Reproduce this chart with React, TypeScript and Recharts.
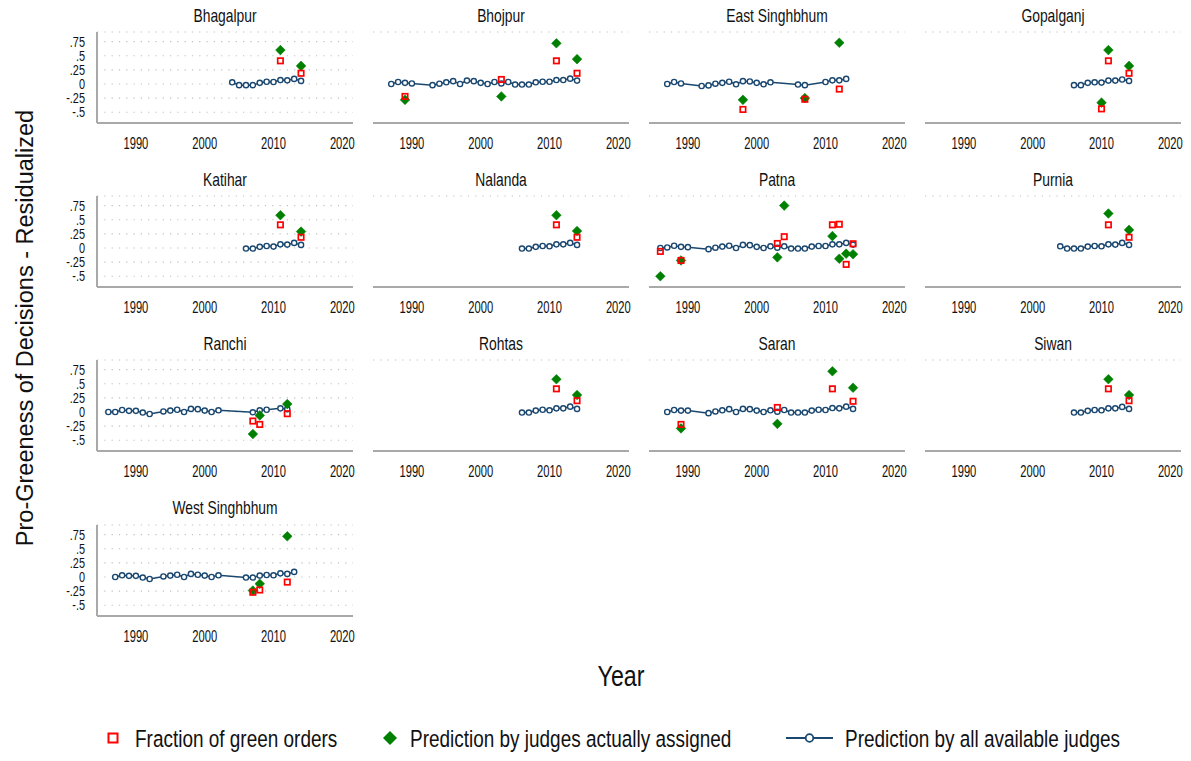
import React from 'react';
import { ComposedChart, Line, Scatter, XAxis, YAxis, CartesianGrid } from 'recharts';

const FONT = '"Liberation Sans", Arial, Helvetica, sans-serif';
const NAVY = '#1a476f';
const GREEN = '#008000';
const RED = '#ff0000';
const AXIS = '#a9a9a9';
const TEXT = '#111111';

const xTicks = [1990, 2000, 2010, 2020];
const yTicks = [-0.5, -0.25, 0, 0.25, 0.5, 0.75];
const yTickLabels = ['-.5', '-.25', '0', '.25', '.5', '.75'];
const xDomain = [1984.35, 2021.55];
const yDomain = [-0.69, 0.92];

const legendLabels = ['Fraction of green orders', 'Prediction by judges actually assigned', 'Prediction by all available judges'];
const xAxisTitle = 'Year';
const yAxisTitle = 'Pro-Greeness of Decisions - Residualized';

// Bhagalpur
const bhagalpurYears = [2004, 2005, 2006, 2007, 2008, 2009, 2010, 2011, 2012, 2013, 2014];
const bhagalpurAll = [0.03, -0.02, -0.02, -0.02, 0.02, 0.04, 0.035, 0.07, 0.065, 0.09, 0.055];
const bhagalpurOrderYears = [2011, 2014];
const bhagalpurGreen = [0.41, 0.19];
const bhagalpurAssigned = [0.6, 0.32];

// Bhojpur
const bhojpurYears = [1987, 1988, 1989, 1990, 1993, 1994, 1995, 1996, 1997, 1998, 1999, 2000, 2001, 2002, 2003, 2004, 2005, 2006, 2007, 2008, 2009, 2010, 2011, 2012, 2013, 2014];
const bhojpurAll = [0, 0.035, 0.02, 0.01, -0.02, 0.005, 0.03, 0.05, 0, 0.06, 0.05, 0.02, 0, 0.035, 0.01, 0.035, -0.01, -0.01, -0.01, 0.03, 0.04, 0.04, 0.07, 0.07, 0.095, 0.06];
const bhojpurOrderYears = [1989, 2003, 2011, 2014];
const bhojpurGreen = [-0.22, 0.08, 0.41, 0.19];
const bhojpurAssigned = [-0.28, -0.22, 0.72, 0.44];

// East Singhbhum
const eastSinghbhumYears = [1987, 1988, 1989, 1992, 1993, 1994, 1995, 1996, 1997, 1998, 1999, 2000, 2001, 2002, 2006, 2007, 2010, 2011, 2012, 2013];
const eastSinghbhumAll = [0, 0.035, 0.01, -0.035, -0.025, 0.005, 0.02, 0.04, -0.005, 0.05, 0.045, 0.02, -0.005, 0.03, -0.01, -0.02, 0.035, 0.065, 0.065, 0.09];
const eastSinghbhumOrderYears = [1998, 2007, 2012];
const eastSinghbhumGreen = [-0.45, -0.27, -0.09];
const eastSinghbhumAssigned = [-0.28, -0.25, 0.73];

// Gopalganj
const gopalganjYears = [2006, 2007, 2008, 2009, 2010, 2011, 2012, 2013, 2014];
const gopalganjAll = [-0.02, -0.02, 0.02, 0.03, 0.025, 0.06, 0.06, 0.08, 0.055];
const gopalganjOrderYears = [2010, 2011, 2014];
const gopalganjGreen = [-0.44, 0.41, 0.19];
const gopalganjAssigned = [-0.33, 0.6, 0.32];

// Katihar
const katiharYears = [2006, 2007, 2008, 2009, 2010, 2011, 2012, 2013, 2014];
const katiharAll = [-0.01, -0.01, 0.02, 0.035, 0.025, 0.065, 0.06, 0.09, 0.055];
const katiharOrderYears = [2011, 2014];
const katiharGreen = [0.41, 0.19];
const katiharAssigned = [0.58, 0.29];

// Nalanda
const nalandaYears = [2006, 2007, 2008, 2009, 2010, 2011, 2012, 2013, 2014];
const nalandaAll = [-0.01, -0.01, 0.02, 0.035, 0.03, 0.065, 0.065, 0.09, 0.055];
const nalandaOrderYears = [2011, 2014];
const nalandaGreen = [0.41, 0.19];
const nalandaAssigned = [0.58, 0.3];

// Patna
const patnaYears = [1986, 1987, 1988, 1989, 1990, 1993, 1994, 1995, 1996, 1997, 1998, 1999, 2000, 2001, 2002, 2003, 2004, 2005, 2006, 2007, 2008, 2009, 2010, 2011, 2012, 2013, 2014];
const patnaAll = [0, 0.01, 0.04, 0.02, 0.015, -0.02, 0.005, 0.025, 0.04, 0, 0.055, 0.05, 0.02, 0, 0.03, 0.005, 0.03, -0.01, -0.01, -0.01, 0.025, 0.035, 0.035, 0.065, 0.065, 0.09, 0.06];
const patnaOrderYears = [1986, 1989, 2003, 2004, 2011, 2012, 2013, 2014];
const patnaGreen = [-0.06, -0.22, 0.08, 0.2, 0.41, 0.42, -0.29, 0.075];
const patnaAssigned = [-0.5, -0.22, -0.165, 0.75, 0.21, -0.19, -0.1, -0.11];

// Purnia
const purniaYears = [2004, 2005, 2006, 2007, 2008, 2009, 2010, 2011, 2012, 2013, 2014];
const purniaAll = [0.03, -0.01, -0.01, -0.01, 0.025, 0.035, 0.03, 0.065, 0.06, 0.09, 0.055];
const purniaOrderYears = [2011, 2014];
const purniaGreen = [0.41, 0.19];
const purniaAssigned = [0.61, 0.32];

// Ranchi
const ranchiYears = [1986, 1987, 1988, 1989, 1990, 1991, 1992, 1994, 1995, 1996, 1997, 1998, 1999, 2000, 2001, 2002, 2007, 2008, 2009, 2011, 2012];
const ranchiAll = [0, 0, 0.035, 0.02, 0.02, -0.01, -0.035, 0.01, 0.025, 0.04, 0, 0.055, 0.05, 0.025, 0, 0.03, -0.005, 0.03, 0.04, 0.065, 0.05];
const ranchiOrderYears = [2007, 2008, 2012];
const ranchiGreen = [-0.16, -0.22, -0.03];
const ranchiAssigned = [-0.39, -0.06, 0.14];

// Rohtas
const rohtasYears = [2006, 2007, 2008, 2009, 2010, 2011, 2012, 2013, 2014];
const rohtasAll = [-0.01, -0.01, 0.025, 0.04, 0.03, 0.065, 0.065, 0.095, 0.055];
const rohtasOrderYears = [2011, 2014];
const rohtasGreen = [0.41, 0.2];
const rohtasAssigned = [0.58, 0.3];

// Saran
const saranYears = [1987, 1988, 1989, 1990, 1993, 1994, 1995, 1996, 1997, 1998, 1999, 2000, 2001, 2002, 2003, 2004, 2005, 2006, 2007, 2008, 2009, 2010, 2011, 2012, 2013, 2014];
const saranAll = [0, 0.035, 0.025, 0.025, -0.02, 0.01, 0.03, 0.05, 0, 0.055, 0.05, 0.025, 0, 0.03, 0.005, 0.035, -0.01, -0.01, -0.01, 0.025, 0.04, 0.035, 0.07, 0.065, 0.095, 0.055];
const saranOrderYears = [1989, 2003, 2011, 2014];
const saranGreen = [-0.22, 0.08, 0.41, 0.19];
const saranAssigned = [-0.29, -0.21, 0.72, 0.43];

// Siwan
const siwanYears = [2006, 2007, 2008, 2009, 2010, 2011, 2012, 2013, 2014];
const siwanAll = [-0.01, -0.01, 0.02, 0.035, 0.03, 0.065, 0.065, 0.09, 0.055];
const siwanOrderYears = [2011, 2014];
const siwanGreen = [0.41, 0.2];
const siwanAssigned = [0.58, 0.3];

// West Singhbhum
const westSinghbhumYears = [1987, 1988, 1989, 1990, 1991, 1992, 1994, 1995, 1996, 1997, 1998, 1999, 2000, 2001, 2002, 2006, 2007, 2008, 2009, 2010, 2011, 2012, 2013];
const westSinghbhumAll = [0, 0.03, 0.02, 0.02, -0.01, -0.035, 0.01, 0.025, 0.04, 0, 0.055, 0.04, 0.025, 0, 0.03, -0.01, -0.01, 0.025, 0.035, 0.03, 0.065, 0.055, 0.09];
const westSinghbhumOrderYears = [2007, 2008, 2012];
const westSinghbhumGreen = [-0.27, -0.23, -0.09];
const westSinghbhumAssigned = [-0.24, -0.12, 0.72];

type PanelSpec = {
  name: string;
  years: number[];
  all: number[];
  orderYears: number[];
  green: number[];
  assigned: number[];
};

const panels: PanelSpec[] = [
  { name: 'Bhagalpur', years: bhagalpurYears, all: bhagalpurAll, orderYears: bhagalpurOrderYears, green: bhagalpurGreen, assigned: bhagalpurAssigned },
  { name: 'Bhojpur', years: bhojpurYears, all: bhojpurAll, orderYears: bhojpurOrderYears, green: bhojpurGreen, assigned: bhojpurAssigned },
  { name: 'East Singhbhum', years: eastSinghbhumYears, all: eastSinghbhumAll, orderYears: eastSinghbhumOrderYears, green: eastSinghbhumGreen, assigned: eastSinghbhumAssigned },
  { name: 'Gopalganj', years: gopalganjYears, all: gopalganjAll, orderYears: gopalganjOrderYears, green: gopalganjGreen, assigned: gopalganjAssigned },
  { name: 'Katihar', years: katiharYears, all: katiharAll, orderYears: katiharOrderYears, green: katiharGreen, assigned: katiharAssigned },
  { name: 'Nalanda', years: nalandaYears, all: nalandaAll, orderYears: nalandaOrderYears, green: nalandaGreen, assigned: nalandaAssigned },
  { name: 'Patna', years: patnaYears, all: patnaAll, orderYears: patnaOrderYears, green: patnaGreen, assigned: patnaAssigned },
  { name: 'Purnia', years: purniaYears, all: purniaAll, orderYears: purniaOrderYears, green: purniaGreen, assigned: purniaAssigned },
  { name: 'Ranchi', years: ranchiYears, all: ranchiAll, orderYears: ranchiOrderYears, green: ranchiGreen, assigned: ranchiAssigned },
  { name: 'Rohtas', years: rohtasYears, all: rohtasAll, orderYears: rohtasOrderYears, green: rohtasGreen, assigned: rohtasAssigned },
  { name: 'Saran', years: saranYears, all: saranAll, orderYears: saranOrderYears, green: saranGreen, assigned: saranAssigned },
  { name: 'Siwan', years: siwanYears, all: siwanAll, orderYears: siwanOrderYears, green: siwanGreen, assigned: siwanAssigned },
  { name: 'West Singhbhum', years: westSinghbhumYears, all: westSinghbhumAll, orderYears: westSinghbhumOrderYears, green: westSinghbhumGreen, assigned: westSinghbhumAssigned },
];

const PLOT_LEFT0 = 97;
const COL_STEP = 276;
const PLOT_TOP0 = 32;
const ROW_STEP = 164.2;
const PLOT_W = 256;
const PLOT_H = 91;
const Y_AXIS_W = 40;
const MARGIN_TOP = 10;
const MARGIN_RIGHT = 5;
const X_AXIS_H = 30;

const XTick = (props: any) => {
  const { x, y, payload } = props;
  return (
    <text
      transform={`translate(${x},${y}) scale(0.7,1)`}
      textAnchor="middle"
      dy="0.68em"
      fontSize={16}
      fontFamily={FONT}
      fill={TEXT}
    >
      {payload.value}
    </text>
  );
};

const YTick = (props: any) => {
  const { x, y, payload } = props;
  const idx = yTicks.indexOf(payload.value);
  return (
    <text
      transform={`translate(${x},${y}) scale(0.78,1)`}
      textAnchor="end"
      dy="0.36em"
      fontSize={14}
      fontFamily={FONT}
      fill={TEXT}
    >
      {idx >= 0 ? yTickLabels[idx] : payload.value}
    </text>
  );
};

const renderCircle = (props: any) => {
  const { cx, cy, index } = props;
  if (cx == null || cy == null) return <g key={`c${index}`} />;
  return <circle key={`c${index}`} cx={cx} cy={cy} r={2.6} fill="#ffffff" stroke={NAVY} strokeWidth={1.4} />;
};

const renderDiamond = (props: any) => {
  const { cx, cy } = props;
  const h = 4.8;
  return <path d={`M${cx},${cy - h}L${cx + h},${cy}L${cx},${cy + h}L${cx - h},${cy}Z`} fill={GREEN} stroke={GREEN} strokeWidth={0.6} />;
};

const renderSquare = (props: any) => {
  const { cx, cy } = props;
  const s = 2.7;
  return <rect x={cx - s} y={cy - s} width={2 * s} height={2 * s} fill="none" stroke={RED} strokeWidth={1.7} />;
};

function Panel({ p, col, row }: { p: PanelSpec; col: number; row: number }) {
  const plotLeft = PLOT_LEFT0 + COL_STEP * col;
  const plotTop = PLOT_TOP0 + ROW_STEP * row;
  const lineData = p.years.map((y, i) => ({ year: y, v: p.all[i] }));
  const greenData = p.orderYears.map((y, i) => ({ year: y, v: p.green[i] }));
  const assignedData = p.orderYears.map((y, i) => ({ year: y, v: p.assigned[i] }));
  const showY = col === 0;
  return (
    <div style={{ position: 'absolute', left: plotLeft - Y_AXIS_W, top: plotTop - MARGIN_TOP }}>
      <ComposedChart
        width={Y_AXIS_W + PLOT_W + MARGIN_RIGHT}
        height={MARGIN_TOP + PLOT_H + X_AXIS_H}
        margin={{ top: MARGIN_TOP, right: MARGIN_RIGHT, bottom: 0, left: 0 }}
      >
        <CartesianGrid horizontal vertical={false} stroke="#bfbfbf" strokeWidth={1.2} strokeDasharray="1.2 6.1" />
        <XAxis
          type="number"
          dataKey="year"
          domain={xDomain}
          ticks={xTicks}
          interval={0}
          allowDataOverflow
          height={X_AXIS_H}
          axisLine={{ stroke: AXIS, strokeWidth: 2 }}
          tickLine={false}
          tickSize={6}
          tickMargin={9}
          tick={<XTick />}
        />
        <YAxis
          type="number"
          dataKey="v"
          domain={yDomain}
          ticks={yTicks}
          interval={0}
          allowDataOverflow
          width={Y_AXIS_W}
          axisLine={showY ? { stroke: AXIS, strokeWidth: 2 } : false}
          tickLine={false}
          tickSize={6}
          tickMargin={6}
          tick={showY ? <YTick /> : false}
        />
        <Line data={lineData} dataKey="v" stroke={NAVY} strokeWidth={1.5} dot={renderCircle} activeDot={false} isAnimationActive={false} />
        <Scatter data={assignedData} dataKey="v" shape={renderDiamond} isAnimationActive={false} />
        <Scatter data={greenData} dataKey="v" shape={renderSquare} isAnimationActive={false} />
      </ComposedChart>
    </div>
  );
}

export default function App() {
  return (
    <div style={{ position: 'absolute', left: 0, top: 0, width: 1191, height: 761, background: '#ffffff', fontFamily: FONT }}>
      {panels.map((p, i) => (
        <Panel key={p.name} p={p} col={i % 4} row={Math.floor(i / 4)} />
      ))}
      <svg width={1191} height={761} style={{ position: 'absolute', left: 0, top: 0, pointerEvents: 'none' }}>
        {panels.map((p, i) => {
          const col = i % 4;
          const row = Math.floor(i / 4);
          const cx = PLOT_LEFT0 + COL_STEP * col + PLOT_W / 2;
          const by = PLOT_TOP0 + ROW_STEP * row - 10.5;
          return (
            <text key={p.name} transform={`translate(${cx},${by}) scale(0.77,1)`} textAnchor="middle" fontSize={18} fontFamily={FONT} fill={TEXT}>
              {p.name}
            </text>
          );
        })}
        <text transform="translate(621,686) scale(0.8,1)" textAnchor="middle" fontSize={29} fontFamily={FONT} fill={TEXT}>
          {xAxisTitle}
        </text>
        <text transform="translate(33,328) rotate(-90)" textAnchor="middle" fontSize={23.5} fontFamily={FONT} fill={TEXT}>
          {yAxisTitle}
        </text>
        {/* legend */}
        <rect x={108.5} y={733.5} width={9} height={9} fill="none" stroke={RED} strokeWidth={2} />
        <text transform="translate(135,746.5) scale(0.8,1)" fontSize={23.7} fontFamily={FONT} fill={TEXT}>
          {legendLabels[0]}
        </text>
        <path d="M390,731L397,738L390,745L383,738Z" fill={GREEN} />
        <text transform="translate(410,746.5) scale(0.8,1)" fontSize={23.7} fontFamily={FONT} fill={TEXT}>
          {legendLabels[1]}
        </text>
        <line x1={786} y1={738} x2={833} y2={738} stroke={NAVY} strokeWidth={2} />
        <circle cx={809.5} cy={738} r={3.8} fill="#ffffff" stroke={NAVY} strokeWidth={1.8} />
        <text transform="translate(845,746.5) scale(0.8,1)" fontSize={23.7} fontFamily={FONT} fill={TEXT}>
          {legendLabels[2]}
        </text>
      </svg>
    </div>
  );
}
